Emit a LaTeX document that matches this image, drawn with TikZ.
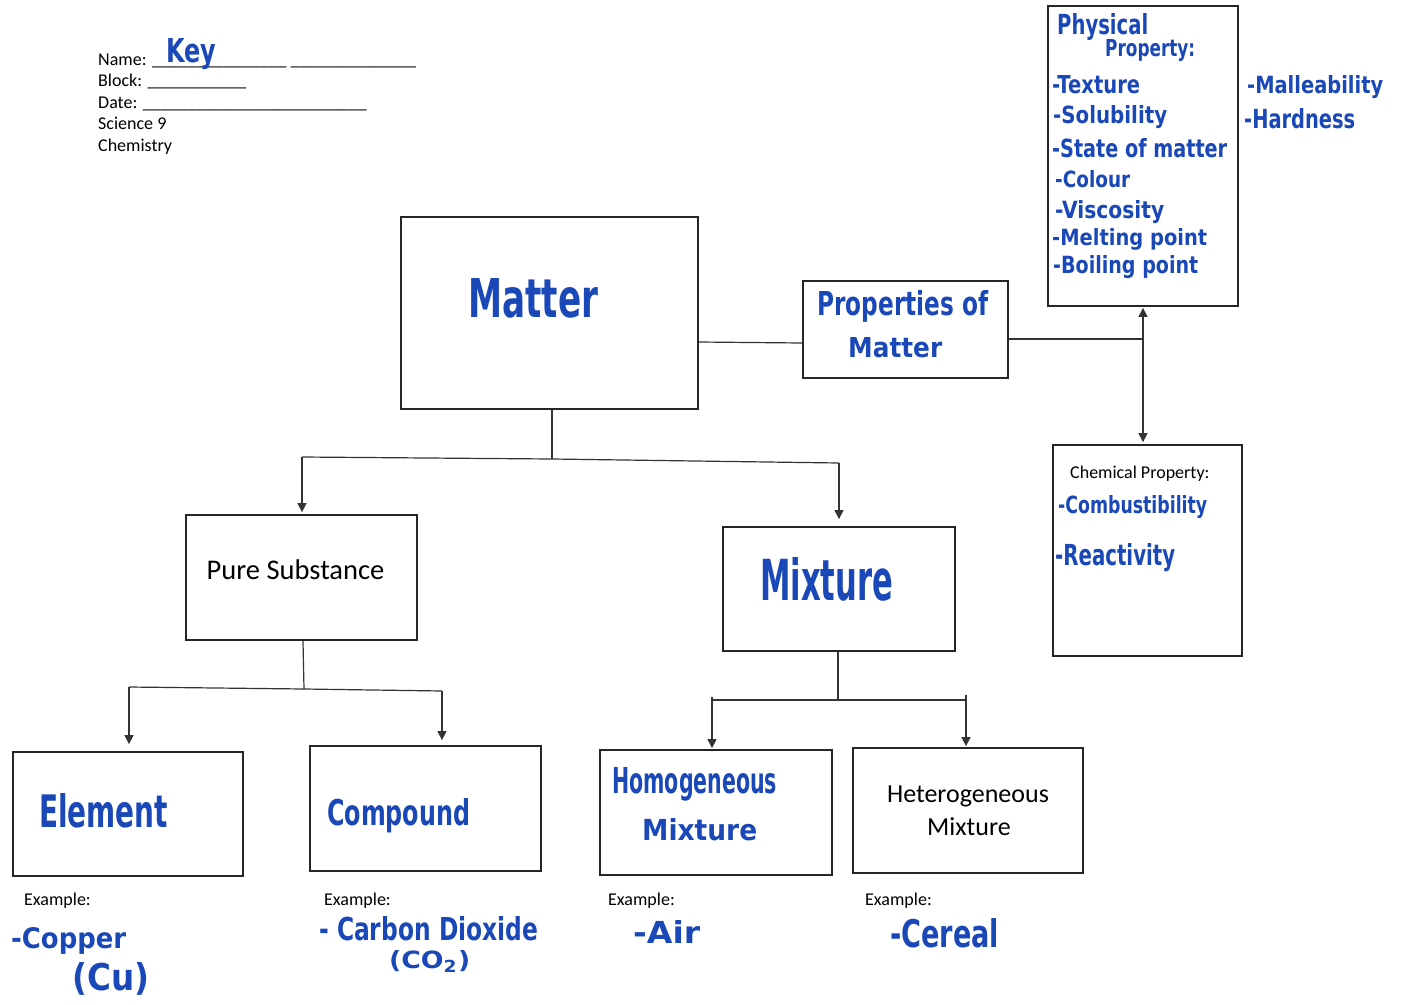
\documentclass[tikz,border=0pt]{standalone}
\usepackage{fontspec}
\setmainfont{Carlito}
\newfontfamily\hwfont{DejaVu Sans}
\usepackage{graphicx}
\usetikzlibrary{arrows.meta}
\definecolor{ink}{RGB}{26,72,184}
\newcommand\hwtext[3]{\resizebox{#1pt}{#2pt}{\hwfont\bfseries #3}}
\tikzset{
 box/.style={draw=black!85, line width=1.8pt, inner sep=0pt},
 conn/.style={draw=black!80, line width=1.2pt},
 tip/.tip={Triangle[width=9pt,length=9pt]},
 arr/.style={conn, -tip},
 hw/.style={inner sep=0pt, text=ink, anchor=base west},
 prn/.style={inner sep=0pt, anchor=base west, font=\fontsize{18}{21.5}\selectfont},
 big/.style={inner sep=0pt, anchor=base, font=\fontsize{26}{33}\selectfont},
}
\begin{document}
\begin{tikzpicture}[x=1pt,y=-1pt]
\fill[white] (0,0) rectangle (1402,1004);
\useasboundingbox (0,0) rectangle (1402,1004);

% header
\node[prn] (hname) at (98,65) {Name: \_\_\_\_\_\_\_\_\_\_\_\_\_\_\_ \_\_\_\_\_\_\_\_\_\_\_\_\_\_};
\node[prn] (hblock) at (98,86.5) {Block: \_\_\_\_\_\_\_\_\_\_\_};
\node[prn] (hdate) at (98,108) {Date: \_\_\_\_\_\_\_\_\_\_\_\_\_\_\_\_\_\_\_\_\_\_\_\_\_};
\node[prn] (hsci) at (98,129.5) {Science 9};
\node[prn] (hchem) at (98,151) {Chemistry};
\node[hw] (key) at (166,62) {\hwtext{50}{24}{Key}};

% boxes
\node[box, minimum width=297pt, minimum height=192pt] (matter) at (549.5,313) {};
\node[box, minimum width=205pt, minimum height=97pt] (props) at (905.5,329.5) {};
\node[box, minimum width=190pt, minimum height=300pt] (phys) at (1143,156) {};
\node[box, minimum width=189pt, minimum height=211pt] (chem) at (1147.5,550.5) {};
\node[box, minimum width=231pt, minimum height=125pt] (pure) at (301.5,577.5) {};
\node[box, minimum width=232pt, minimum height=124pt] (mix) at (839,589) {};
\node[box, minimum width=230pt, minimum height=124pt] (elem) at (128,814) {};
\node[box, minimum width=231pt, minimum height=125pt] (comp) at (425.5,808.5) {};
\node[box, minimum width=232pt, minimum height=125pt] (homo) at (716,812.5) {};
\node[box, minimum width=230pt, minimum height=125pt] (hetero) at (968,810.5) {};

% box texts
\node[hw] (tmatter) at (468,317) {\hwtext{130}{39}{Matter}};
\node[hw] (tprops1) at (817,315) {\hwtext{171}{25}{Properties of}};
\node[hw] (tprops2) at (848,357) {\hwtext{94}{20}{Matter}};
\node[hw] (tphys1) at (1057,34) {\hwtext{91}{21}{Physical}};
\node[hw] (tphys2) at (1105,56) {\hwtext{90}{17}{Property:}};
\node[hw] (p1) at (1052,93) {\hwtext{88}{18}{-Texture}};
\node[hw] (p2) at (1053,123) {\hwtext{114}{18}{-Solubility}};
\node[hw] (p3) at (1052,157) {\hwtext{175}{19}{-State of matter}};
\node[hw] (p4) at (1055,187) {\hwtext{75}{17}{-Colour}};
\node[hw] (p5) at (1055,218) {\hwtext{109}{18}{-Viscosity}};
\node[hw] (p6) at (1052,245) {\hwtext{155}{17}{-Melting point}};
\node[hw] (p7) at (1053,273) {\hwtext{145}{18}{-Boiling point}};
\node[hw] (p8) at (1247,93) {\hwtext{136}{18}{-Malleability}};
\node[hw] (p9) at (1244,128) {\hwtext{111}{20}{-Hardness}};
\node[prn] (tchem) at (1070,478) {Chemical Property:};
\node[hw] (c1) at (1058,513) {\hwtext{149}{18}{-Combustibility}};
\node[hw] (c2) at (1055,565) {\hwtext{120}{22}{-Reactivity}};
\node[big, font=\fontsize{28.5}{33}\selectfont] (tpure) at (295.5,579) {Pure Substance};
\node[hw] (tmix) at (760,600) {\hwtext{133}{43}{Mixture}};
\node[hw] (telem) at (39,827) {\hwtext{129}{34}{Element}};
\node[hw] (tcomp) at (327,825) {\hwtext{143}{27}{Compound}};
\node[hw] (thomo1) at (612,793) {\hwtext{165}{26}{Homogeneous}};
\node[hw] (thomo2) at (642,840) {\hwtext{115}{22}{Mixture}};
\node[big] (thet1) at (968,802) {Heterogeneous};
\node[big] (thet2) at (969,835) {Mixture};

% examples
\node[prn] (ex1) at (24,905) {Example:};
\node[prn] (ex2) at (324,905) {Example:};
\node[prn] (ex3) at (608,905) {Example:};
\node[prn] (ex4) at (865,905) {Example:};
\node[hw] (e1a) at (11,948) {\hwtext{115}{21}{-Copper}};
\node[hw] (e1b) at (72,990) {\hwtext{77}{28}{(Cu)}};
\node[hw] (e2a) at (319,940) {\hwtext{219}{24}{- Carbon Dioxide}};
\node[hw] (e2b) at (389,968) {\hwtext{81}{18}{(CO\textsubscript{2})}};
\node[hw] (e3) at (633,943) {\hwtext{67}{23}{-Air}};
\node[hw] (e4) at (890,947) {\hwtext{109}{29}{-Cereal}};

% connectors: matter - properties
\draw[conn] ([yshift=-29pt]matter.east) -- ([yshift=-13.5pt]props.west);
\coordinate (pj) at (1143,339);
\draw[conn] ([yshift=-9.5pt]props.east) -- (pj);
\draw[conn, tip-tip, shorten <=1pt, shorten >=2pt] (phys.south) -- (phys.south |- chem.north);

% matter tree
\coordinate (mj) at (552,459);
\coordinate (ml) at (302,457);
\coordinate (mr) at (839,463);
\draw[conn] (matter.south -| mj) -- (mj);
\draw[conn] (ml) -- (mj) -- (mr);
\draw[arr, shorten >=2pt] (ml) -- (ml |- pure.north);
\draw[arr, shorten >=7pt] (mr) -- (mr |- mix.north);

% pure substance tree
\coordinate (sj) at (304,689);
\coordinate (sl) at (129,687);
\coordinate (sr) at (442,691);
\draw[conn] ([xshift=1.5pt]pure.south) -- (sj);
\draw[conn] (sl) -- (sj) -- (sr);
\draw[arr, shorten >=7pt] (sl) -- (sl |- elem.north);
\draw[arr, shorten >=5pt] (sr) -- (sr |- comp.north);

% mixture tree
\coordinate (xj) at (838,700);
\coordinate (xl) at (712,700);
\coordinate (xr) at (966,700);
\coordinate (xlt) at (712,697);
\coordinate (xrt) at (966,695);
\draw[conn] ([xshift=-1pt]mix.south) -- (xj);
\draw[conn] (xl) -- (xr);
\draw[arr, shorten >=1pt] (xlt) -- (xlt |- homo.north);
\draw[arr, shorten >=1pt] (xrt) -- (xrt |- hetero.north);
\end{tikzpicture}
\end{document}
